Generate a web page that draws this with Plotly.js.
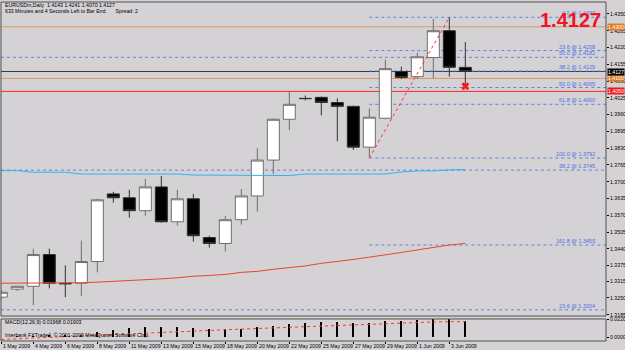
<!DOCTYPE html>
<html>
<head>
<meta charset="utf-8">
<script src="https://cdn.plot.ly/plotly-3.0.1.min.js"></script>
<style>html,body{margin:0;padding:0;background:#d5d2d6;}#chart{width:625px;height:350px;}</style>
</head>
<body>
<div id="chart"></div>
<script>
// ---- data ----
const dates = ['1 May 2009','3 May 2009','4 May 2009','5 May 2009','6 May 2009','7 May 2009','8 May 2009',
  '10 May 2009','11 May 2009','12 May 2009','13 May 2009','14 May 2009','15 May 2009',
  '17 May 2009','18 May 2009','19 May 2009','20 May 2009','21 May 2009','22 May 2009',
  '24 May 2009','25 May 2009','26 May 2009','27 May 2009','28 May 2009','29 May 2009',
  '31 May 2009','1 Jun 2009','2 Jun 2009','3 Jun 2009','4 Jun 2009'];
const openP  = [1.3253,1.3284,1.3295,1.3418,1.3307,1.3307,1.3391,1.3653,1.3638,1.3588,1.3680,1.3545,1.3634,1.3484,1.3461,1.3553,1.3645,1.3784,1.3942,1.4023,1.4027,1.4007,1.3992,1.3834,1.3946,1.4127,1.4107,1.4181,1.4285,1.4143];
const highP  = [1.3280,1.3297,1.3441,1.3441,1.3376,1.3472,1.3634,1.3661,1.3669,1.3711,1.3722,1.3669,1.3653,1.3491,1.3568,1.3672,1.3830,1.3945,1.4050,1.4034,1.4030,1.4023,1.3995,1.3984,1.4173,1.4146,1.4200,1.4331,1.4337,1.4241];
const lowP   = [1.3245,1.3277,1.3222,1.3287,1.3253,1.3257,1.3349,1.3619,1.3561,1.3568,1.3542,1.3530,1.3468,1.3445,1.3430,1.3534,1.3584,1.3730,1.3900,1.4015,1.3957,1.3857,1.3823,1.3792,1.3942,1.4098,1.4098,1.4100,1.4107,1.4070];
const closeP = [1.3272,1.3295,1.3418,1.3307,1.3305,1.3391,1.3630,1.3638,1.3588,1.3680,1.3545,1.3634,1.3491,1.3461,1.3553,1.3645,1.3784,1.3942,1.4000,1.4022,1.4007,1.3992,1.3834,1.3950,1.4138,1.4104,1.4184,1.4285,1.4143,1.4127];
const maCyan = [1.3743,1.3743,1.3737,1.3737,1.3737,1.3730,1.3730,1.3730,1.3730,1.3730,1.3730,1.3730,1.3726,1.3726,1.3726,1.3724,1.3724,1.3724,1.3724,1.3730,1.3730,1.3730,1.3730,1.3730,1.3730,1.3738,1.3742,1.3742,1.3746,1.3747];
const maRed  = [1.3307,1.3307,1.3307,1.3307,1.3307,1.3309,1.3311,1.3314,1.3316,1.3320,1.3324,1.3328,1.3334,1.3337,1.3341,1.3349,1.3353,1.3361,1.3368,1.3374,1.3384,1.3391,1.3399,1.3408,1.3416,1.3426,1.3436,1.3445,1.3455,1.3461];
const macdMain   = [0.0010,0.0014,0.0020,0.0025,0.0028,0.0034,0.0067,0.0088,0.0108,0.0120,0.0120,0.0128,0.0108,0.0096,0.0096,0.0096,0.0120,0.0136,0.0160,0.0176,0.0188,0.0188,0.0176,0.0176,0.0200,0.0200,0.0208,0.0220,0.0219,0.01968];
const macdSignal = [-0.0025,-0.0016,-0.0007,0.0002,0.0010,0.0019,0.0028,0.0036,0.0045,0.0053,0.0060,0.0067,0.0076,0.0084,0.0092,0.0100,0.0107,0.0114,0.0122,0.0129,0.0136,0.0145,0.0155,0.0165,0.0172,0.0178,0.0183,0.0186,0.0189,0.01903];
const tickDates = ['1 May 2009','4 May 2009','6 May 2009','8 May 2009','11 May 2009','13 May 2009','15 May 2009','18 May 2009','20 May 2009','22 May 2009','25 May 2009','27 May 2009','29 May 2009','1 Jun 2009','3 Jun 2009'];
const priceTicks = [1.4350,1.4285,1.4220,1.4155,1.4090,1.4025,1.3960,1.3895,1.3830,1.3765,1.3700,1.3635,1.3570,1.3505,1.3440,1.3375,1.3315,1.3250,1.3185];
const macdTicks = [0.02202, 0];
const macdTickText = ['0.02202','0.00000'];
// Fibonacci (recent swing): anchored from low date to high date
const fibFrom = '28 May 2009', fibTo = '3 Jun 2009';
const fib1Prices = [1.4337,1.4208,1.4129,1.4065,1.4000,1.3792,1.3455];
const fib1Labels = ['0.0 @ 1.4337','23.6 @ 1.4208','38.2 @ 1.4129','50.0 @ 1.4065','61.8 @ 1.4000','100.0 @ 1.3792','161.8 @ 1.3455'];
// Fibonacci (long-term, anchored off-chart)
const fib2Prices = [1.4182,1.3745,1.3204];
const fib2Labels = ['50.0 @ 1.4182','38.2 @ 1.3745','23.6 @ 1.3204'];
// horizontal levels
const hLevels = [1.4300,1.4100,1.4050,1.4127];
const hColors = ['#d99a68','#d99a68','#ff2424','#3a3a3a'];
const hBoxColors = ['#e07a22','#e07a22','#f01818','#000000'];
const hLabels = ['1.4300','1.4100','1.4050','1.4127'];
const titleLine1 = 'EURUSDm,Daily  1.4143 1.4241 1.4070 1.4127';
const titleLine2 = '633 Minutes and 4 Seconds Left to Bar End.&nbsp;&nbsp;&nbsp;&nbsp;&nbsp;&nbsp;Spread: 2';
const bigPrice = '1.4127';
const macdLabel = 'MACD(12,26,9) 0.01968 0.01903';
const copyright = 'Interbank FXTrade4, © 2001-2009 MetaQuotes Software Corp.';

// ---- drawing ----
const BG = '#d5d2d6';
const FONT = "'Liberation Sans',Arial,sans-serif";
const MAIN_DOM = [0.0737, 1];
const MACD_DOM = [0, 0.0649];

const traces = [
  {type:'candlestick', x:dates, open:openP, high:highP, low:lowP, close:closeP, xaxis:'x', yaxis:'y',
   increasing:{line:{color:'#6e6e6e', width:1}, fillcolor:'#ffffff'},
   decreasing:{line:{color:'#303030', width:1}, fillcolor:'#000000'},
   whiskerwidth:0, hoverinfo:'skip'},
  {type:'scatter', mode:'lines', x:dates, y:maCyan, line:{color:'#29b6f0', width:1}, xaxis:'x', yaxis:'y', hoverinfo:'skip'},
  {type:'scatter', mode:'lines', x:dates, y:maRed, line:{color:'#e8452e', width:1}, xaxis:'x', yaxis:'y', hoverinfo:'skip'},
  {type:'scatter', mode:'lines', x:[fibFrom, fibTo],
   y:[lowP[dates.indexOf(fibFrom)], highP[dates.indexOf(fibTo)]],
   line:{color:'#ff3030', width:1, dash:'dot'}, xaxis:'x', yaxis:'y', hoverinfo:'skip'},
  {type:'scatter', mode:'markers', x:[dates[dates.length-1]], y:[lowP[lowP.length-1]],
   marker:{symbol:'x', size:7, color:'#ff1a1a'}, xaxis:'x', yaxis:'y', hoverinfo:'skip'},
  {type:'bar', x:dates, y:macdMain, width:0.12, marker:{color:'#000000', line:{width:0}}, xaxis:'x', yaxis:'y2', hoverinfo:'skip'},
  {type:'scatter', mode:'lines', x:dates, y:macdSignal, line:{color:'#ff3a1a', width:1, dash:'dot'}, xaxis:'x', yaxis:'y2', hoverinfo:'skip'}
];

const shapes = [];
const annotations = [];
const SMALL = 5.2;
const lblFont = {family:FONT, size:SMALL, color:'#000'};
// date labels: MT4 writes them to the right of the bar's tick
tickDates.forEach(d => {
  annotations.push({xref:'x', x:d, xanchor:'left', xshift:0, yref:'paper', y:0, yanchor:'top', yshift:0,
    text:d, showarrow:false, font:lblFont});
});
// horizontal levels
hLevels.forEach((p, i) => {
  shapes.push({type:'line', xref:'paper', x0:0, x1:1, yref:'y', y0:p, y1:p, line:{color:hColors[i], width:1}, layer:'below'});
  annotations.push({xref:'paper', x:1, xanchor:'left', xshift:1, yref:'y', y:p, yanchor:'middle', text:hLabels[i],
    showarrow:false, bgcolor:hBoxColors[i], borderpad:0, font:{family:FONT, size:SMALL, color:'#ffffff'}});
});
// fib 1 (from the anchor date to the right edge)
const fibStartIdx = dates.indexOf(fibFrom);
fib1Prices.forEach((p, i) => {
  shapes.push({type:'line', xref:'x', x0:fibStartIdx, x1:40, yref:'y', y0:p, y1:p, line:{color:'#5a84e0', width:1, dash:'dot'}, layer:'below'});
  annotations.push({xref:'paper', x:0.985, xanchor:'right', yref:'y', y:p, yanchor:'bottom', yshift:-1, text:fib1Labels[i],
    showarrow:false, font:{family:FONT, size:5.5, color:'#4a70e0'}});
});
fib2Prices.forEach((p, i) => {
  shapes.push({type:'line', xref:'paper', x0:0, x1:1, yref:'y', y0:p, y1:p, line:{color:'#5a84e0', width:1, dash:'dot'}, layer:'below'});
  annotations.push({xref:'paper', x:0.985, xanchor:'right', yref:'y', y:p, yanchor:'bottom', yshift:-1, text:fib2Labels[i],
    showarrow:false, font:{family:FONT, size:5.5, color:'#4a70e0'}});
});
// panel borders
shapes.push({type:'rect', xref:'paper', yref:'paper', x0:0, x1:1, y0:MAIN_DOM[0], y1:MAIN_DOM[1], line:{color:'#505050', width:1}, fillcolor:'rgba(0,0,0,0)'});
shapes.push({type:'rect', xref:'paper', yref:'paper', x0:0, x1:1, y0:MACD_DOM[0], y1:MACD_DOM[1], line:{color:'#505050', width:1}, fillcolor:'rgba(0,0,0,0)'});

// texts
annotations.push({xref:'paper', yref:'paper', x:0.003, y:0.9912, xanchor:'left', yanchor:'middle', text:titleLine1, showarrow:false, font:{family:FONT, size:5.2, color:'#000'}});
annotations.push({xref:'paper', yref:'paper', x:0.003, y:0.9735, xanchor:'left', yanchor:'middle', text:titleLine2, showarrow:false, font:{family:FONT, size:5.2, color:'#000'}});
annotations.push({xref:'paper', yref:'paper', x:0.995, y:0.9469, xanchor:'right', yanchor:'middle', text:'<b>'+bigPrice+'</b>', showarrow:false, font:{family:FONT, size:20, color:'#ee1526'}});
annotations.push({xref:'paper', yref:'paper', x:0.003, y:(341-321.5)/339, xanchor:'left', yanchor:'middle', text:macdLabel, showarrow:false, font:{family:FONT, size:5.2, color:'#000'}});
annotations.push({xref:'paper', yref:'paper', x:0.003, y:(341-335)/339, xanchor:'left', yanchor:'middle', text:copyright, showarrow:false, font:{family:FONT, size:5.2, color:'#000'}});

const axFont = {family:FONT, size:SMALL, color:'#000'};
const layout = {
  width:625, height:350,
  paper_bgcolor:BG, plot_bgcolor:BG,
  margin:{l:1, r:19, t:2, b:9, pad:0},
  showlegend:false,
  boxgap:0.25, boxgroupgap:0,
  bargap:0,
  xaxis:{type:'category', range:[-0.02, 37.7925], anchor:'y2', rangeslider:{visible:false},
    tickmode:'array', tickvals:tickDates, ticktext:tickDates, ticks:'outside', ticklen:2, tickcolor:'#000',
    showticklabels:false, showgrid:false, zeroline:false, showline:false, fixedrange:true},
  yaxis:{domain:MAIN_DOM, range:[1.3180, 1.43962], side:'right', anchor:'x',
    tickmode:'array', tickvals:priceTicks, ticktext:priceTicks.map(v=>v.toFixed(4)),
    ticks:'outside', ticklen:2, tickcolor:'#000', tickfont:axFont, showgrid:false, zeroline:false, showline:false, fixedrange:true},
  yaxis2:{domain:MACD_DOM, range:[-0.0044, 0.0222], side:'right', anchor:'x',
    tickmode:'array', tickvals:macdTicks, ticktext:macdTickText,
    ticks:'outside', ticklen:2, tickcolor:'#000', tickfont:axFont, showgrid:false, zeroline:false, showline:false, fixedrange:true},
  shapes:shapes,
  annotations:annotations
};
Plotly.newPlot('chart', traces, layout, {displayModeBar:false, staticPlot:true});
</script>
</body>
</html>
